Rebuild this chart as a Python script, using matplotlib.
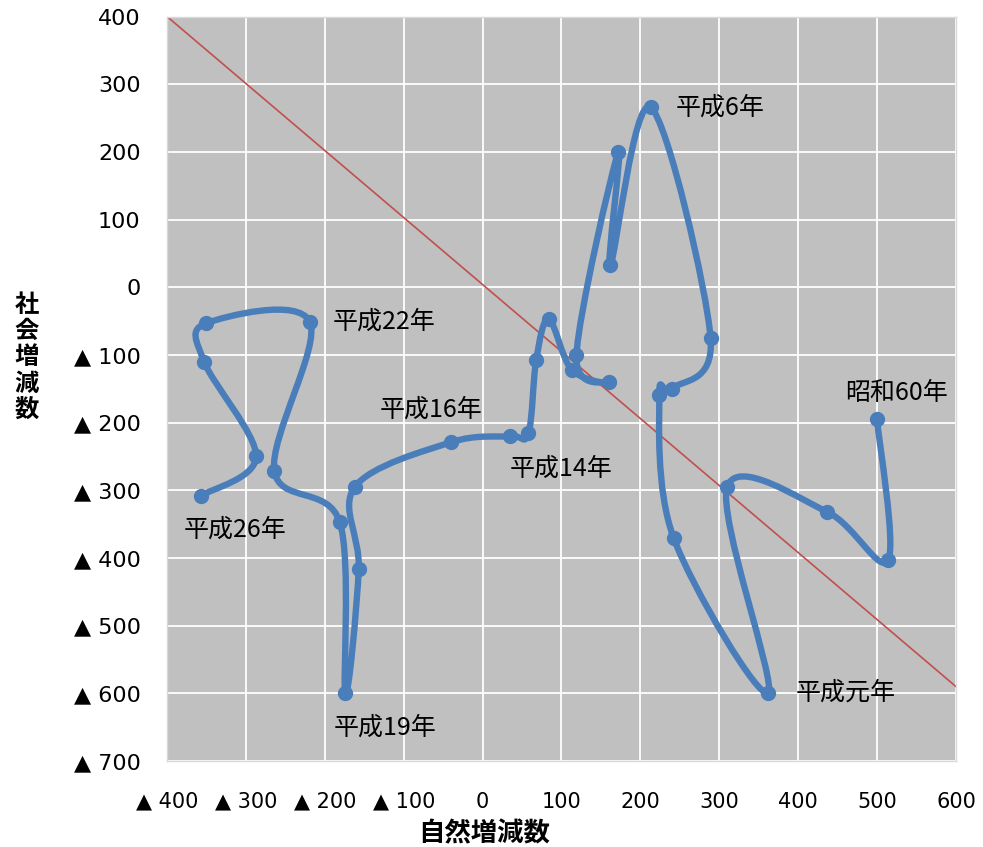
import numpy as np
import matplotlib.pyplot as plt
from matplotlib.path import Path
from matplotlib.patches import PathPatch

# 自然増減数 (x) と 社会増減数 (y)、昭和60年〜平成26年
years = ['昭和60年', '昭和61年', '昭和62年', '昭和63年', '平成元年', '平成2年', '平成3年',
         '平成4年', '平成5年', '平成6年', '平成7年', '平成8年', '平成9年', '平成10年',
         '平成11年', '平成12年', '平成13年', '平成14年', '平成15年', '平成16年', '平成17年',
         '平成18年', '平成19年', '平成20年', '平成21年', '平成22年', '平成23年', '平成24年',
         '平成25年', '平成26年']
natural = [500, 514, 437, 310, 362, 242, 224, 240, 289, 213, 162, 172, 119, 160, 113,
           84, 68, 58, 35, -40, -162, -157, -174, -181, -264, -219, -350, -353, -287, -357]
social = [-195, -403, -332, -295, -599, -370, -159, -150, -75, 266, 33, 200, -100, -140, -122,
          -47, -107, -216, -220, -229, -295, -417, -600, -347, -271, -51, -53, -110, -250, -308]

# reference line
ref_x = [-400, 600]
ref_y = [400, -590]

x_ticks = list(range(-400, 601, 100))
y_ticks = list(range(-700, 401, 100))

# labelled years and text offsets (pixels)
label_years = ['昭和60年', '平成元年', '平成6年', '平成14年', '平成16年', '平成19年', '平成22年', '平成26年']
label_offsets = [(-32, 26), (27, 0), (25, 0), (-19, -35), (-71, 33), (-12, -34), (23, 0), (-17, -34)]


def tick_text(v):
    return '▲ %d' % -v if v < 0 else '%d' % v


def smooth_path(xs, ys):
    # Catmull-Rom style bezier, like a smoothed line in a spreadsheet
    p = np.column_stack([xs, ys]).astype(float)
    n = len(p)
    verts = [p[0]]
    codes = [Path.MOVETO]
    for i in range(n - 1):
        p0 = p[max(i - 1, 0)]
        p1 = p[i]
        p2 = p[i + 1]
        p3 = p[min(i + 2, n - 1)]
        verts += [p1 + (p2 - p0) / 6, p2 - (p3 - p1) / 6, p2]
        codes += [Path.CURVE4] * 3
    return Path(verts, codes)


blue = '#4A7EBB'
jp = ['Noto Sans CJK JP', 'DejaVu Sans']
tk = ['DejaVu Sans', 'Noto Sans CJK JP']

fig = plt.figure(figsize=(9.83, 8.47), dpi=100)
ax = fig.add_axes([0.1699, 0.1015, 0.8026, 0.879])
ax.set_facecolor('#C0C0C0')
ax.set_xlim(-400, 600)
ax.set_ylim(-700, 400)
ax.set_xticks(x_ticks)
ax.set_yticks(y_ticks)
ax.set_xticklabels([tick_text(v) for v in x_ticks], family=tk, fontsize=15)
ax.set_yticklabels([tick_text(v) for v in y_ticks], family=tk, fontsize=16)
ax.tick_params(length=0)
ax.tick_params(axis='y', pad=19)
ax.tick_params(axis='x', pad=22)
ax.grid(True, color='white', linewidth=1.3)
ax.set_axisbelow(True)
for s in ax.spines.values():
    s.set_color('#D9D9D9')
    s.set_linewidth(1)

ax.plot(ref_x, ref_y, color='#C0504D', linewidth=1.2, zorder=2)

ax.add_patch(PathPatch(smooth_path(natural, social), facecolor='none', edgecolor=blue,
                       linewidth=4.6, capstyle='round', joinstyle='round', zorder=3))
ax.plot(natural, social, linestyle='none', marker='o', markersize=10, color=blue, zorder=4)

for name, (dx, dy) in zip(label_years, label_offsets):
    i = years.index(name)
    ax.annotate(name, (natural[i], social[i]), xytext=(dx, dy), textcoords='offset pixels',
                ha='left', va='center', family=jp, fontsize=18, zorder=5)

fig.text(0.4924, 0.016, '自然増減数', ha='center', va='center', family=jp,
         fontsize=19, fontweight='bold')
fig.text(0.027, 0.578, '\n'.join('社会増減数'), ha='center', va='center', family=jp,
         fontsize=17.5, fontweight='bold', linespacing=1.12)

fig.savefig('out.png', dpi=100)
